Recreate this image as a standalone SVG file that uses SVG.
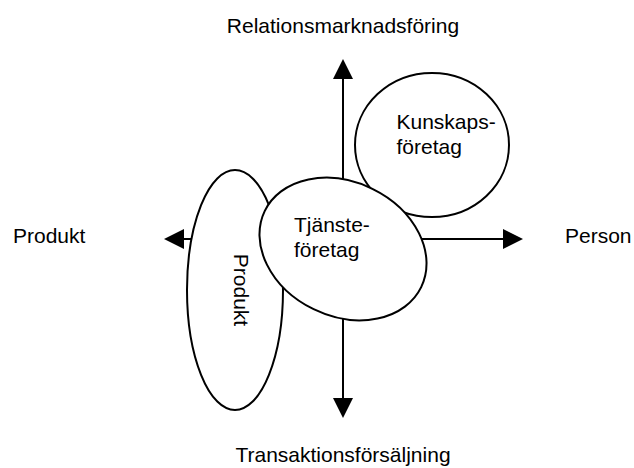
<svg xmlns="http://www.w3.org/2000/svg" width="634" height="468" viewBox="0 0 634 468">
<style>
text{font-family:"Liberation Sans",Arial,sans-serif;font-size:21px;fill:#000}
.ax{stroke:#000;stroke-width:2;fill:none}
.el{stroke:#000;stroke-width:2;fill:#fff}
.ah{fill:#000;stroke:none}
</style>
<rect width="634" height="468" fill="#fff"/>
<g id="connectors">
<line class="ax" x1="343" y1="78" x2="343" y2="400"/>
<line class="ax" x1="182" y1="239" x2="505" y2="239"/>
<polygon class="ah" points="343,59 333,79 353,79"/>
<polygon class="ah" points="343,418 333,398 353,398"/>
<polygon class="ah" points="164,239 184,229 184,249"/>
<polygon class="ah" points="523,239 503,229 503,249"/>
</g>
<g id="produkt-ellipse">
<ellipse class="el" cx="235" cy="290" rx="48" ry="120"/>
<text transform="translate(234,290) rotate(90)" text-anchor="middle">Produkt</text>
</g>
<g id="kunskapsforetag">
<ellipse class="el" cx="432" cy="145" rx="77" ry="72"/>
<text x="396.5" y="128.5">Kunskaps-</text>
<text x="396.5" y="153.5">företag</text>
</g>
<g id="tjansteforetag">
<ellipse class="el" cx="343" cy="249" rx="87" ry="67" transform="rotate(26 343 249)"/>
<text x="294" y="231.5">Tjänste-</text>
<text x="294" y="256.5">företag</text>
</g>
<g id="labels">
<text x="343" y="33" text-anchor="middle">Relationsmarknadsföring</text>
<text x="343" y="462" text-anchor="middle">Transaktionsförsäljning</text>
<text x="13" y="243">Produkt</text>
<text x="565" y="243">Person</text>
</g>
</svg>
